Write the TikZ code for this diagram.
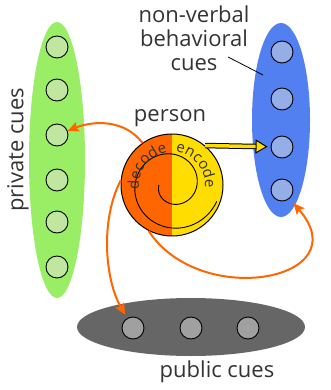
\documentclass[tikz,border=0pt]{standalone}
\usepackage{fontspec}
\setmainfont{Open Sans}
\usetikzlibrary{arrows.meta,shapes.geometric,decorations.text}
\definecolor{privgreen}{RGB}{153,238,102}
\definecolor{privdot}{RGB}{192,230,160}
\definecolor{nvblue}{RGB}{82,128,240}
\definecolor{nvdot}{RGB}{150,174,232}
\definecolor{pubgray}{RGB}{102,102,102}
\definecolor{pubdot}{RGB}{160,160,160}
\definecolor{persorange}{RGB}{255,102,0}
\definecolor{persyellow}{RGB}{255,221,0}
\definecolor{labgray}{RGB}{51,51,51}

\begin{document}
\begin{tikzpicture}[x=1pt,y=1pt,
  cue/.style={circle,draw,line width=0.9pt,minimum size=22pt,inner sep=0pt},
  group/.style={ellipse,inner sep=0pt},
  lbl/.style={font=\fontsize{22}{24}\selectfont,text=labgray},
  flow/.style={draw=persorange,line width=2pt,-{Stealth[length=11pt,width=10pt,inset=2pt]}}]
\useasboundingbox (0,0) rectangle (330,-390);
% cue groups
\node[group,fill=privgreen,minimum width=56pt,minimum height=276pt] (private) at (57,-160) {};
\node[group,fill=nvblue,minimum width=58pt,minimum height=194pt] (nonverbal) at (281,-120) {};
\node[group,fill=pubgray,minimum width=228pt,minimum height=58pt] (public) at (191,-327) {};
\foreach \i/\y in {1/47,2/90,3/135,4/180,5/222,6/267}{\node[cue,fill=privdot] (pc\i) at (57,-\y) {};}
\foreach \i/\y in {1/52,2/99,3/147,4/190}{\node[cue,fill=nvdot] (nb\i) at (282,-\y) {};}
\foreach \i/\x in {1/133,2/191,3/248}{\node[cue,fill=pubdot] (pu\i) at (\x,-328) {};}
% labels
\node[lbl,rotate=90] (privlab) at (18,-150) {private cues};
\node[lbl] (publab) at (217,-372) {public cues};
\node[lbl,align=center] (nvlab) at (194,-38) {non-verbal\\behavioral\\cues};
\coordinate (tagfrom) at (228,-57);
\coordinate (tagto) at (263,-75);
\draw[line width=0.8pt] (tagfrom) -- (tagto);
% the person
\node[circle,draw,line width=1pt,minimum size=102pt,inner sep=0pt,
  path picture={\fill[persorange] (path picture bounding box.north west) rectangle (path picture bounding box.south);
                \fill[persyellow] (path picture bounding box.north) rectangle (path picture bounding box.south east);}] (person) at (172,-185) {};
\node[lbl] (perslab) at (170,-118) {person};
\draw[line width=0.9pt,shift={(172,-185)}] plot[domain=180:700,samples=120,smooth] ({(13+(\x-180)/15)*cos(\x)},{(13+(\x-180)/15)*sin(\x)});
\path[decorate,decoration={text along path,text align=center,text={|\fontsize{15}{15}\selectfont\color{labgray}|decode}}]
  (172,-185) ++(200:33pt) arc[start angle=200,end angle=86,radius=33pt];
\path[decorate,decoration={text along path,text align=center,text={|\fontsize{15}{15}\selectfont\color{labgray}|encode}}]
  (172,-185) ++(96:33pt) arc[start angle=96,end angle=-18,radius=33pt];
% connectors
\draw[draw=black,double=persyellow,double distance=3.5pt,line width=1pt,shorten >=3pt,
  -{Triangle[length=12pt,width=14pt,fill=persyellow]}] (person.50) -- (nb3);
\draw[flow] (person.125) .. controls (125,-120) and (95,-120) .. (pc3);
\draw[flow,shorten >=4pt] (person.175) .. controls (100,-220) and (105,-280) .. (pu1);
\draw[flow,shorten >=6pt] (person.243) .. controls (200,-310) and (360,-280) .. (nb4);
\end{tikzpicture}
\end{document}
